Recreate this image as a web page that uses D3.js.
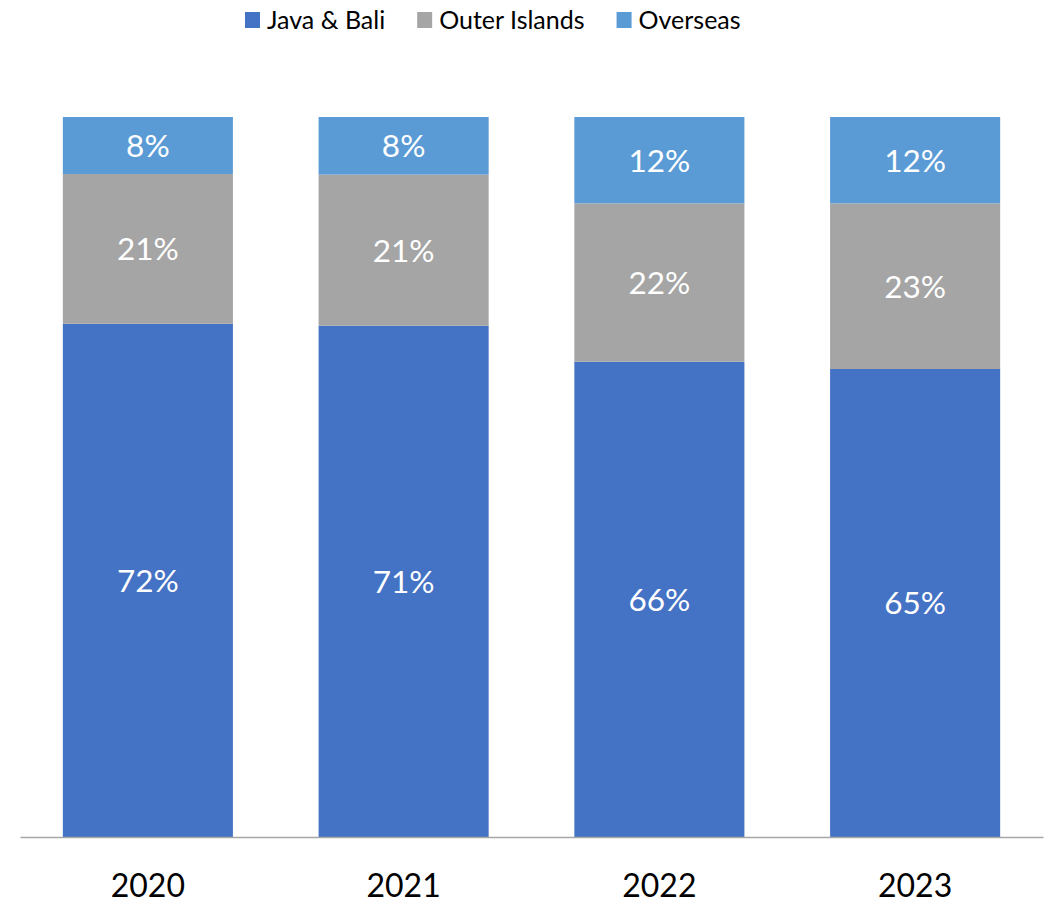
<!DOCTYPE html>
<html>
<head>
<meta charset="utf-8">
<script src="https://cdn.jsdelivr.net/npm/d3@7"></script>
<style>
  html, body { margin: 0; padding: 0; background: #fff; }
  svg { display: block; font-family: Lato, "Open Sans", sans-serif; }
</style>
</head>
<body>
<svg id="chart" width="1051" height="903"></svg>
<script>
// Share of sales by region, per year (percent)
const years = ["2020", "2021", "2022", "2023"];
const seriesNames = ["Java & Bali", "Outer Islands", "Overseas"];
const javaBali = [72, 71, 66, 65];
const outerIslands = [21, 21, 22, 23];
const overseas = [8, 8, 12, 12];
const seriesColors = ["#4472C4", "#A5A5A5", "#5B9BD5"];

const rows = years.map((y, i) => ({
  year: y,
  "Java & Bali": javaBali[i],
  "Outer Islands": outerIslands[i],
  "Overseas": overseas[i]
}));

const svg = d3.select("#chart");
const plot = { left: 20, right: 1043, top: 117, bottom: 837 };

const x = d3.scaleBand()
  .domain(years)
  .range([plot.left, plot.right])
  .paddingInner(0.335)
  .paddingOuter(0.1675);

const y = d3.scaleLinear().domain([0, 1]).range([plot.bottom, plot.top]);

const color = d3.scaleOrdinal().domain(seriesNames).range(seriesColors);

// 100% stacked columns
const stacked = d3.stack()
  .keys(seriesNames)
  .offset(d3.stackOffsetExpand)(rows);

const layers = svg.append("g").selectAll("g")
  .data(stacked)
  .join("g")
  .attr("fill", d => color(d.key));

layers.selectAll("rect")
  .data(d => d.map(p => ({ p, key: d.key })))
  .join("rect")
  .attr("x", d => x(d.p.data.year))
  .attr("width", x.bandwidth())
  .attr("y", d => y(d.p[1]))
  .attr("height", d => y(d.p[0]) - y(d.p[1]));

// value labels, centred in each segment
layers.selectAll("text")
  .data(d => d.map(p => ({ p, key: d.key })))
  .join("text")
  .attr("x", d => x(d.p.data.year) + x.bandwidth() / 2)
  .attr("y", d => (y(d.p[0]) + y(d.p[1])) / 2)
  .attr("dy", "0.36em")
  .attr("text-anchor", "middle")
  .attr("fill", "#fff")
  .style("font-size", "31.5px")
  .text(d => d.p.data[d.key] + "%");

// category axis
const axis = svg.append("g")
  .attr("transform", `translate(0,${plot.bottom})`)
  .call(d3.axisBottom(x).tickSize(0).tickSizeOuter(0).tickPadding(37));
axis.select(".domain").attr("stroke", "#A6A6A6").attr("stroke-width", 1.3);
axis.selectAll("text")
  .attr("fill", "#000")
  .style("font-family", "Lato, 'Open Sans', sans-serif")
  .style("font-size", "32px");

// legend
const legend = svg.append("g").attr("transform", "translate(245,12)");
let lx = 0;
seriesNames.forEach(name => {
  const item = legend.append("g").attr("transform", `translate(${lx},0)`);
  item.append("rect").attr("width", 15).attr("height", 16).attr("fill", color(name));
  const t = item.append("text")
    .attr("x", 22)
    .attr("y", 16)
    .attr("dy", "0.5")
    .attr("fill", "#000")
    .style("font-size", "25px")
    .text(name);
  lx += 22 + t.node().getComputedTextLength() + 32;
});
</script>
</body>
</html>
